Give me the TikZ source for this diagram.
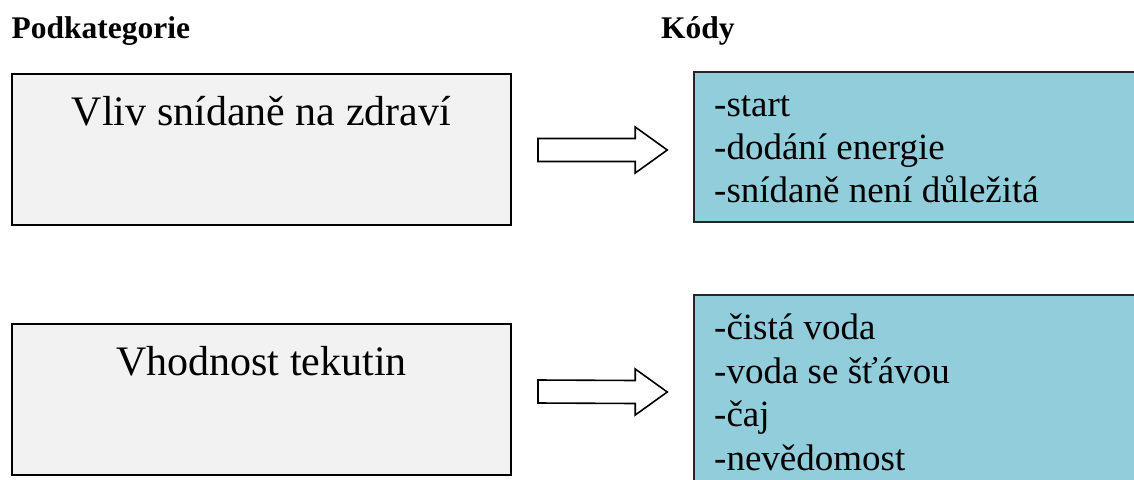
\documentclass[tikz,border=0pt]{standalone}
\usepackage{fontspec}
\setmainfont{Liberation Serif}
\usetikzlibrary{calc}
\definecolor{catfill}{HTML}{F2F2F2}
\definecolor{codefill}{HTML}{92CDDC}

% hollow block arrow from a tail point to a tip point
\newcommand\drawblockarrow[2]{%
  \draw[blockarrow] ($(#1)+(0,-11.5)$) -- ($(#2)+(-32,-11.5)$) -- ($(#2)+(-32,-23)$)
    -- (#2) -- ($(#2)+(-32,23)$) -- ($(#2)+(-32,11.5)$) -- ($(#1)+(0,11.5)$) -- cycle;}

\begin{document}
\begin{tikzpicture}[x=1pt,y=-1pt,
  head/.style={font=\fontsize{31.5}{36}\selectfont\bfseries, inner sep=0pt, anchor=base west},
  catbox/.style={draw=black, line width=2pt, fill=catfill, minimum width=499pt, minimum height=151pt, inner sep=0pt},
  cattitle/.style={font=\fontsize{42}{48}\selectfont, inner sep=0pt, anchor=base},
  codebox/.style={draw=black!85, line width=1.5pt, fill=codefill, inner sep=0pt, minimum width=460pt},
  codetext/.style={font=\fontsize{37}{43}\selectfont, inner sep=0pt, anchor=base west},
  blockarrow/.style={draw=black, line width=1.6pt, fill=white, line join=miter}]
\useasboundingbox (0,0) rectangle (1134,479);
\clip (0,0) rectangle (1134,479);

% column headings
\node[head] (hsub) at (11.5,38) {Podkategorie};
\node[head] (hcode) at (661,38) {Kódy};

% subcategory boxes
\node[catbox] (sub1) at (261.5,149.5) {};
\node[cattitle] (sub1t) at (261.5,125) {Vliv snídaně na zdraví};
\node[catbox] (sub2) at (261.5,399.5) {};
\node[cattitle] (sub2t) at (261.5,375) {Vhodnost tekutin};

% code boxes (running past the right and bottom edges)
\node[codebox, minimum height=150pt] (codes1) at (924,147) {};
\node[codebox, minimum height=210pt] (codes2) at (924,400) {};

\foreach \t [count=\i] in {-start,-dodání energie,-snídaně není důležitá}
  \node[codetext] (c1-\i) at (714,{116+43.3*(\i-1)}) {\t};
\foreach \t [count=\i] in {-čistá voda,-voda se šťávou,-čaj,-nevědomost}
  \node[codetext] (c2-\i) at (714,{339.5+43.5*(\i-1)}) {\t};

% arrows from subcategories to their codes
\coordinate (a1tail) at ($(sub1.east)+(26,0.5)$);
\coordinate (a1tip) at ($(codes1.west)+(-26,3)$);
\drawblockarrow{a1tail}{a1tip}
\coordinate (a2tail) at ($(sub2.east)+(26,-8)$);
\coordinate (a2tip) at ($(codes2.west)+(-26,-8)$);
\drawblockarrow{a2tail}{a2tip}
\end{tikzpicture}
\end{document}
